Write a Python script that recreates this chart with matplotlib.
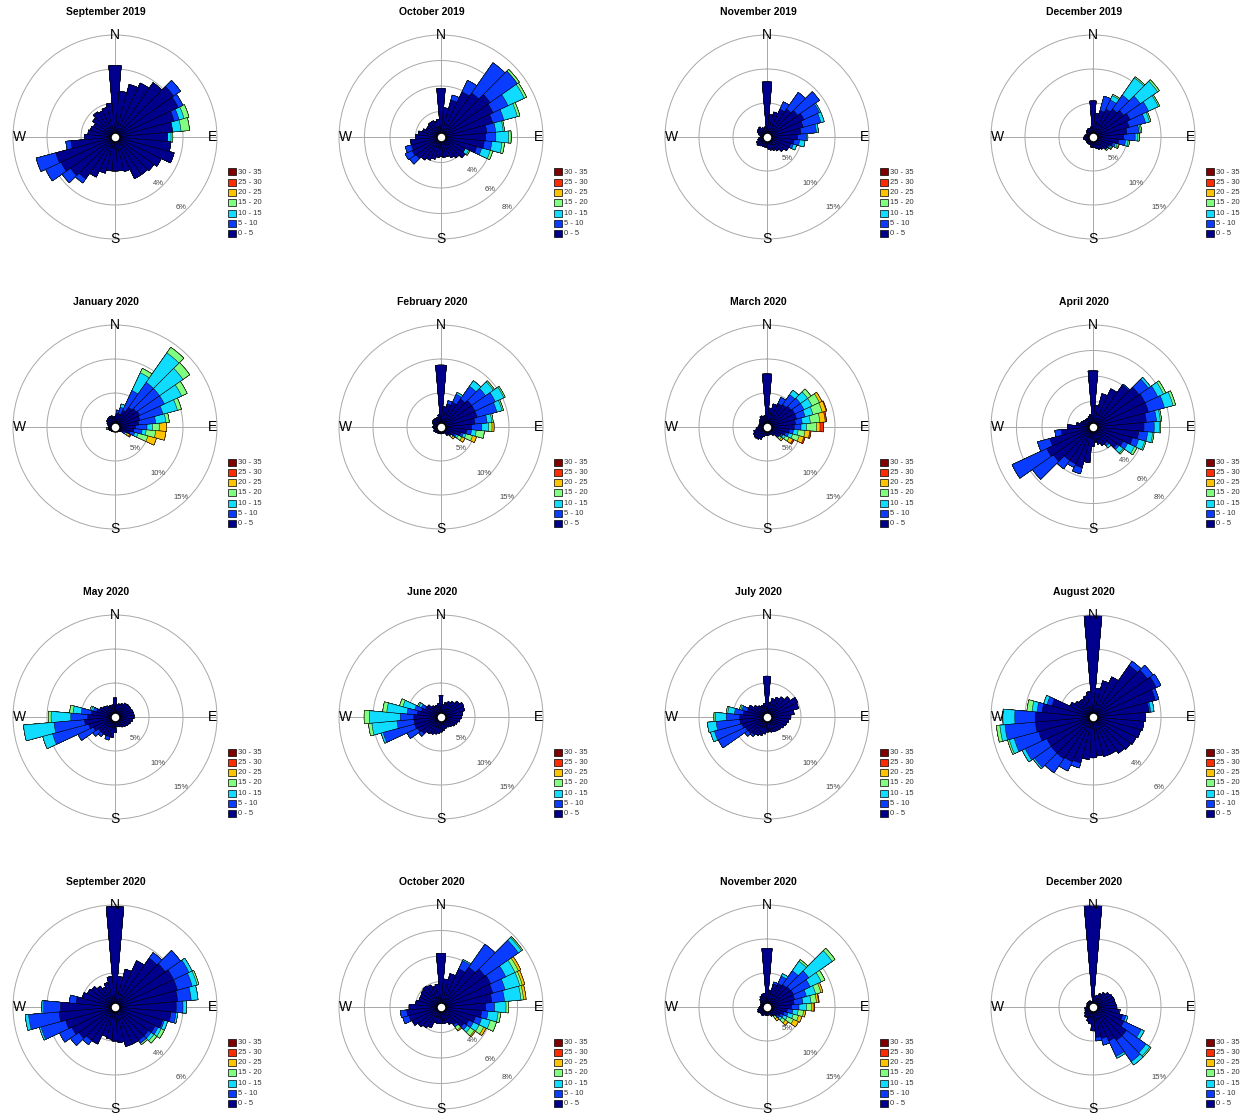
import numpy as np
import matplotlib
matplotlib.use("Agg")
import matplotlib.pyplot as plt
from matplotlib.patches import Rectangle

plt.rcParams["font.family"] = ["Liberation Sans", "DejaVu Sans"]

DIRS = list(range(0, 360, 10))
SPEED_LABELS = ["0 - 5", "5 - 10", "10 - 15", "15 - 20", "20 - 25", "25 - 30", "30 - 35"]
SPEED_COLORS = ["#00008c", "#0a3cff", "#10dcff", "#80ff80", "#ffc400", "#ff2c00", "#800000"]

# frequency (%) per 10 deg sector: *_slow = outer edge of the 0-5 class,
# *_fast = {sector: cumulative outer edges of 5-10, 10-15, 15-20, 20-25, 25-30}
sep19_slow = [4.2, 2.7, 3.2, 3.5, 3.9, 4.2, 4.1, 3.6, 3.4, 3.1, 3.3, 3.6, 3.0, 2.8, 2.7, 2.7, 2.1, 2.0,
              2.0, 2.0, 2.2, 2.6, 3.0, 3.2, 3.5, 3.6, 2.6, 1.8, 1.6, 1.5, 1.4, 1.6, 1.8, 1.7, 1.8, 2.0]
sep19_fast = {50: [4.7], 60: [4.4], 70: [3.9, 4.2, 4.5], 80: [3.4, 3.9, 4.4], 90: [3.1, 3.3, 3.4],
              220: [3.3], 230: [3.8], 240: [4.5], 250: [4.8], 260: [2.9]}

oct19_slow = [3.8, 2.3, 3.0, 3.9, 4.2, 4.7, 4.5, 4.2, 3.6, 3.5, 3.4, 2.9, 2.1, 2.3, 2.0, 1.8, 1.6, 1.6,
              1.5, 1.6, 1.8, 2.0, 2.2, 2.4, 2.5, 2.4, 2.4, 2.0, 1.8, 1.5, 1.3, 1.3, 1.4, 1.4, 1.3, 1.4]
oct19_fast = {20: [3.4], 30: [4.9], 40: [7.1], 50: [7.3, 7.3, 7.5], 60: [5.8, 7.2, 7.4],
              70: [5.1, 6.2, 6.4], 80: [4.3, 4.9, 5.0], 90: [4.3, 5.3, 5.5], 100: [4.0, 4.8, 5.0],
              110: [3.3, 4.0, 4.2], 120: [2.1, 2.4, 2.5], 230: [3.0], 240: [3.1], 250: [2.9]}

nov19_slow = [8.1, 3.3, 3.8, 4.5, 5.0, 5.5, 6.0, 5.5, 5.0, 4.5, 4.0, 3.6, 3.5, 3.0, 2.5, 2.2, 2.0, 1.8,
              1.5, 1.5, 1.5, 1.5, 1.6, 1.8, 1.7, 1.4, 1.2, 1.0, 1.0, 1.3, 1.6, 1.7, 1.8, 1.5, 1.4, 1.5]
nov19_fast = {30: [5.7], 40: [8.0], 50: [9.4], 60: [8.5, 8.7], 70: [8.2, 8.7], 80: [7.3, 7.6],
              90: [5.8, 6.0], 100: [4.8, 5.6], 110: [4.0, 4.5]}

dec19_slow = [5.3, 3.5, 4.0, 4.5, 5.0, 5.5, 6.0, 5.5, 5.0, 4.5, 3.8, 3.0, 2.6, 2.5, 2.2, 2.0, 1.8, 1.5,
              1.5, 1.5, 1.2, 1.2, 1.2, 1.2, 1.0, 1.2, 1.4, 1.3, 1.2, 1.0, 1.0, 1.2, 1.3, 1.4, 1.3, 1.5]
dec19_fast = {20: [6.2], 30: [6.0, 6.7, 6.9], 40: [7.5, 10.6, 10.8], 50: [8.5, 11.6, 11.9],
              60: [9.0, 10.6, 10.8], 70: [8.0, 8.6, 8.8], 80: [6.8, 7.0, 7.2], 90: [6.2, 6.6, 6.8],
              100: [4.8, 5.2, 5.4], 110: [3.4, 3.7, 3.9, 4.0], 120: [2.8, 3.0, 3.1, 3.2],
              130: [2.6, 2.6, 2.8]}

jan20_slow = [1.5, 2.0, 2.0, 2.7, 3.5, 3.8, 4.0, 3.8, 3.5, 3.0, 2.8, 2.3, 1.3, 1.0, 0.8, 0.8, 0.7, 0.7,
              0.7, 0.7, 0.7, 0.7, 0.8, 0.8, 0.9, 1.0, 1.0, 0.9, 1.0, 1.1, 1.3, 1.5, 1.6, 1.7, 1.7, 1.5]
jan20_fast = {10: [2.5], 20: [3.0, 3.5], 30: [5.9, 8.8, 9.5], 40: [8.0, 13.3, 14.3],
              50: [8.0, 12.2, 13.4], 60: [8.0, 10.8, 11.7], 70: [7.3, 9.5, 10.1], 80: [6.0, 7.5, 8.0],
              90: [4.7, 5.5, 6.5, 7.6], 100: [4.0, 4.6, 6.0, 7.5], 110: [3.0, 3.5, 5.0, 6.3],
              120: [1.7, 1.7, 2.0, 2.4, 2.6], 260: [1.0, 1.2, 1.3]}

feb20_slow = [9.1, 3.0, 3.5, 4.0, 5.0, 5.5, 5.5, 5.5, 5.0, 4.5, 3.8, 3.0, 2.2, 1.8, 1.5, 1.0, 1.0, 1.0,
              1.0, 1.0, 1.0, 1.0, 1.0, 1.1, 1.2, 1.0, 1.1, 1.2, 1.0, 1.2, 1.4, 1.5, 1.5, 1.4, 1.5, 1.8]
feb20_fast = {20: [4.0], 30: [5.3, 5.6], 40: [7.3, 8.3], 50: [8.0, 9.4, 9.6], 60: [8.8, 10.2, 10.4],
              70: [8.5, 9.3, 9.5], 80: [6.8, 7.5, 7.7], 90: [6.0, 7.0, 7.5, 7.8], 100: [4.5, 5.2, 6.4],
              110: [3.4, 3.8, 4.8, 5.4], 120: [2.5, 2.8, 3.4, 3.9], 130: [1.8, 1.8, 2.2, 2.5]}

mar20_slow = [7.8, 2.8, 3.5, 3.8, 4.0, 4.3, 4.5, 4.5, 4.2, 4.0, 3.3, 2.8, 2.3, 2.0, 1.5, 1.2, 1.2, 1.2,
              1.2, 1.2, 1.5, 2.0, 2.2, 2.3, 2.2, 2.0, 1.6, 1.3, 1.2, 1.2, 1.2, 1.4, 1.5, 1.8, 1.6, 1.7]
mar20_fast = {30: [4.8], 40: [5.8, 6.6], 50: [6.0, 7.3, 7.9], 60: [6.0, 7.3, 8.5, 8.9],
              70: [5.8, 7.0, 8.4, 9.0, 9.1], 80: [5.2, 6.4, 7.8, 8.6, 8.8], 90: [5.0, 5.8, 7.3, 7.8, 8.3],
              100: [3.9, 4.6, 5.6, 6.3, 6.5], 110: [3.3, 3.9, 4.9, 5.6, 5.8],
              120: [2.6, 3.0, 3.6, 4.2, 4.4], 130: [2.2, 2.2, 2.6, 2.9]}

apr20_slow = [4.4, 1.7, 2.7, 3.3, 4.0, 4.4, 4.5, 4.5, 4.2, 4.0, 3.6, 3.2, 2.6, 2.3, 1.6, 1.6, 1.4, 1.2,
              1.5, 2.8, 3.3, 3.2, 3.2, 3.8, 4.0, 3.5, 2.5, 2.0, 1.3, 1.0, 0.9, 0.8, 0.8, 0.8, 0.9, 1.0]
apr20_fast = {40: [4.1], 50: [5.3, 5.5], 60: [5.6, 6.1, 6.3], 70: [5.8, 6.5, 6.7], 80: [5.0, 5.3, 5.4],
              90: [4.8, 5.2, 5.3], 100: [4.3, 4.7, 4.8], 110: [3.7, 4.2, 4.3], 120: [3.0, 3.6, 3.8],
              130: [2.5, 2.9, 3.0], 140: [1.8, 2.0], 200: [3.8], 210: [3.5], 220: [4.0], 230: [5.8],
              240: [7.0], 250: [4.5], 260: [3.0]}

may20_slow = [2.8, 1.8, 2.0, 2.2, 2.5, 2.6, 2.6, 2.7, 2.8, 2.8, 2.6, 2.4, 2.2, 2.0, 1.8, 1.6, 1.5, 1.4,
              2.3, 3.0, 3.0, 3.0, 3.0, 3.0, 3.5, 4.0, 4.5, 4.0, 3.5, 2.8, 2.5, 2.2, 2.0, 1.8, 1.8, 1.8]
may20_fast = {200: [3.5], 220: [3.5], 230: [4.0], 240: [6.0], 250: [9.5, 11.0], 260: [9.0, 13.5],
              270: [6.5, 9.4, 9.8], 280: [5.0, 6.2, 6.7], 290: [3.3, 3.6, 3.8]}

jun20_slow = [3.2, 1.8, 2.2, 2.5, 2.8, 3.3, 3.7, 3.6, 3.2, 3.0, 2.8, 2.5, 2.3, 2.0, 1.8, 1.7, 1.8, 2.0,
              2.2, 2.4, 2.6, 2.8, 3.0, 3.5, 3.8, 4.0, 4.0, 4.0, 3.5, 3.0, 2.6, 2.5, 2.0, 1.8, 1.8, 2.0]
jun20_fast = {230: [4.0], 240: [5.5], 250: [8.8, 9.1], 260: [6.5, 10.2, 10.7], 270: [6.0, 10.5, 11.3],
              280: [5.0, 8.0, 8.6], 290: [4.0, 5.8, 6.3], 300: [3.2, 3.6, 3.8]}

jul20_slow = [6.0, 2.2, 2.8, 3.2, 3.6, 4.2, 5.0, 4.8, 4.0, 3.5, 3.2, 3.0, 2.8, 2.6, 2.5, 2.4, 2.3, 2.2,
              2.2, 2.5, 2.8, 3.0, 3.2, 3.4, 3.5, 3.8, 4.0, 4.0, 3.5, 3.0, 3.0, 2.4, 2.0, 1.8, 1.8, 2.0]
jul20_fast = {220: [3.5], 230: [4.0], 240: [7.9], 250: [8.0, 8.6], 260: [7.5, 8.8],
              270: [6.0, 7.6, 7.8], 280: [4.8, 5.8, 6.0], 290: [3.8, 4.0, 4.2]}

aug20_slow = [6.0, 1.7, 2.2, 2.6, 3.7, 3.9, 4.1, 3.8, 3.3, 3.1, 3.0, 2.9, 2.8, 2.7, 2.6, 2.4, 2.4, 2.3,
              2.4, 2.5, 2.8, 2.9, 3.0, 3.0, 3.0, 3.3, 3.4, 3.4, 3.0, 2.5, 1.5, 1.3, 1.2, 1.2, 1.3, 1.5]
aug20_fast = {40: [4.0], 50: [4.3], 60: [4.4], 70: [4.0], 80: [3.4, 3.6], 200: [3.1], 210: [3.5],
              220: [4.0], 230: [4.2, 4.3], 240: [4.4, 4.6], 250: [4.8, 5.1, 5.2], 260: [5.2, 5.5, 5.7],
              270: [4.6, 5.3], 280: [3.3, 3.6, 3.9], 290: [2.8, 3.0]}

sep20_slow = [5.9, 1.8, 2.3, 3.0, 3.5, 3.6, 3.8, 3.8, 3.7, 3.6, 3.3, 2.9, 2.6, 2.4, 2.4, 2.4, 2.4, 2.1,
              2.0, 1.9, 1.8, 2.4, 2.4, 2.6, 2.8, 3.0, 3.3, 3.2, 2.3, 2.0, 1.8, 1.7, 1.5, 1.3, 1.5, 1.8]
sep20_fast = {40: [3.9], 50: [4.7], 60: [4.8, 5.0], 70: [4.7, 5.0, 5.1], 80: [4.5, 4.9], 90: [4.0, 4.2],
              100: [3.6, 3.7], 110: [3.0, 3.2], 120: [2.8, 3.0, 3.2], 130: [2.6, 2.8, 3.0],
              140: [2.6, 2.6, 2.7], 220: [2.7], 230: [3.2], 240: [3.6], 250: [4.5, 4.6],
              260: [5.1, 5.3], 270: [4.2, 4.3], 280: [2.7]}

oct20_slow = [4.2, 2.2, 2.7, 3.3, 3.8, 4.2, 4.3, 4.2, 4.0, 3.5, 3.2, 2.8, 2.4, 2.2, 1.7, 1.5, 1.3, 1.3,
              1.3, 1.3, 1.3, 1.8, 2.0, 2.2, 2.5, 2.6, 2.7, 2.5, 2.0, 1.8, 1.8, 1.9, 2.0, 1.9, 1.7, 1.8]
oct20_fast = {30: [4.0, 4.1], 40: [6.0], 50: [7.4, 7.7, 7.8], 60: [5.6, 6.4, 6.7, 6.9],
              70: [5.2, 6.4, 6.6, 6.8], 80: [5.0, 6.3, 6.5, 6.7], 90: [4.2, 5.1, 5.3], 100: [3.7, 4.5, 4.7],
              110: [3.3, 4.0, 4.5], 120: [2.8, 3.3, 3.7, 3.9], 130: [2.5, 2.8, 3.2, 3.3],
              140: [1.9, 1.9, 2.2, 2.3], 250: [3.1], 260: [3.2]}

nov20_slow = [8.6, 2.5, 3.5, 3.8, 4.0, 4.2, 4.3, 4.2, 4.0, 3.6, 3.0, 2.6, 2.2, 1.9, 1.6, 1.5, 1.2, 1.2,
              1.2, 1.2, 1.2, 1.4, 1.3, 1.2, 1.5, 1.4, 1.2, 1.1, 1.0, 1.0, 1.0, 1.2, 1.5, 1.8, 2.0, 2.0]
nov20_fast = {20: [3.8], 30: [5.0, 5.4], 40: [6.5, 8.2, 8.5], 50: [7.5, 11.7, 12.2], 60: [7.0, 8.8, 9.4],
              70: [6.0, 7.4, 8.2, 8.5], 80: [5.3, 6.5, 7.3, 7.6, 7.7], 90: [4.7, 5.8, 6.6, 6.9, 7.0],
              100: [3.8, 4.6, 5.4, 5.7], 110: [3.2, 4.0, 4.8, 5.3], 120: [2.7, 3.3, 4.3, 5.1],
              130: [2.3, 2.7, 3.3, 3.8], 140: [1.6, 1.6, 2.1, 2.5]}

dec20_slow = [15.0, 1.5, 1.8, 2.2, 2.6, 3.0, 3.2, 3.3, 3.3, 3.5, 3.8, 4.5, 5.0, 6.0, 6.0, 5.5, 4.8, 4.5,
              3.5, 2.5, 2.2, 1.8, 1.8, 1.5, 1.3, 1.2, 1.2, 1.0, 0.9, 0.9, 1.0, 1.0, 1.0, 1.0, 0.8, 0.8]
dec20_fast = {100: [4.0], 110: [5.0, 5.3], 120: [7.8, 8.3], 130: [9.5, 10.2, 10.4], 140: [9.8, 10.4],
              150: [8.0, 8.3], 160: [5.8], 170: [5.0]}

PANELS = [
    ("September 2019", sep19_slow, sep19_fast, [2, 4, 6]),
    ("October 2019", oct19_slow, oct19_fast, [2, 4, 6, 8]),
    ("November 2019", nov19_slow, nov19_fast, [5, 10, 15]),
    ("December 2019", dec19_slow, dec19_fast, [5, 10, 15]),
    ("January 2020", jan20_slow, jan20_fast, [5, 10, 15]),
    ("February 2020", feb20_slow, feb20_fast, [5, 10, 15]),
    ("March 2020", mar20_slow, mar20_fast, [5, 10, 15]),
    ("April 2020", apr20_slow, apr20_fast, [2, 4, 6, 8]),
    ("May 2020", may20_slow, may20_fast, [5, 10, 15]),
    ("June 2020", jun20_slow, jun20_fast, [5, 10, 15]),
    ("July 2020", jul20_slow, jul20_fast, [5, 10, 15]),
    ("August 2020", aug20_slow, aug20_fast, [2, 4, 6]),
    ("September 2020", sep20_slow, sep20_fast, [2, 4, 6]),
    ("October 2020", oct20_slow, oct20_fast, [2, 4, 6, 8]),
    ("November 2020", nov20_slow, nov20_fast, [5, 10, 15]),
    ("December 2020", dec20_slow, dec20_fast, [5, 10, 15]),
]

W, H = 1249, 1120
COL_X = [115, 441, 767, 1093]
ROW_Y = [137, 427, 717, 1007]
R_PX = 102
GRID = "#a8a8a8"

fig = plt.figure(figsize=(W / 100, H / 100), dpi=100)


def fx(x):
    return x / W


def fy(y):
    return 1 - y / H


theta = np.radians(DIRS)
circ = np.linspace(0, 2 * np.pi, 361)

for i, (title, slow, fast, rings) in enumerate(PANELS):
    cx, cy = COL_X[i % 4], ROW_Y[i // 4]
    rmax = rings[-1]
    ax = fig.add_axes([fx(cx - R_PX), fy(cy + R_PX), 2 * R_PX / W, 2 * R_PX / H], projection="polar")
    ax.set_theta_zero_location("N")
    ax.set_theta_direction(-1)
    ax.set_ylim(0, rmax)
    ax.set_xticks([])
    ax.set_yticks([])
    ax.grid(False)
    ax.spines["polar"].set_color(GRID)
    ax.spines["polar"].set_linewidth(0.7)

    # rings and compass spokes
    for r in rings[:-1]:
        ax.plot(circ, np.full_like(circ, r), color=GRID, lw=0.7, zorder=0.5)
    for a in (0, 90, 180, 270):
        ax.plot([np.radians(a)] * 2, [0, rmax], color=GRID, lw=0.7, zorder=0.5)
    px = rmax / R_PX
    for r in rings:
        ax.text(np.radians(137), r - 5 * px, f"{r}%", fontsize=5.5, color="#444444",
                ha="center", va="center", zorder=0.8)

    # cumulative edges for each speed class
    edges = np.zeros((len(SPEED_LABELS), len(DIRS)))
    for j, d in enumerate(DIRS):
        col = [slow[j]] + fast.get(d, [])
        for k in range(len(SPEED_LABELS)):
            edges[k, j] = col[min(k, len(col) - 1)]
    for k in reversed(range(len(SPEED_LABELS))):
        ax.bar(theta, edges[k], width=np.radians(10), bottom=0, color=SPEED_COLORS[k],
               edgecolor="black", linewidth=0.35, zorder=1 + (6 - k) * 0.01)

    ax.plot([0], [0], "o", ms=6.5, mfc="white", mec="black", mew=1.1, zorder=6, clip_on=False)

    for lab, ang, rr in (("N", 0, 1.0), ("E", 90, 0.96), ("S", 180, 1.0), ("W", 270, 0.94)):
        ax.text(np.radians(ang), rmax * rr, lab, fontsize=10, ha="center", va="center",
                zorder=7, clip_on=False)

    fig.text(fx(cx - 9), fy(cy - 125), title, fontsize=7.5, fontweight="bold",
             ha="center", va="center")

    # speed legend (fastest class on top)
    for n, k in enumerate(reversed(range(len(SPEED_LABELS)))):
        yy = cy + 35 + n * 10.3
        fig.add_artist(Rectangle((fx(cx + 113), fy(yy + 3.5)), 8 / W, 7 / H, transform=fig.transFigure,
                                 facecolor=SPEED_COLORS[k], edgecolor="black", linewidth=0.5))
        fig.text(fx(cx + 123), fy(yy), SPEED_LABELS[k], fontsize=5.5, color="#333333",
                 ha="left", va="center")

fig.savefig("out.png", dpi=100)
